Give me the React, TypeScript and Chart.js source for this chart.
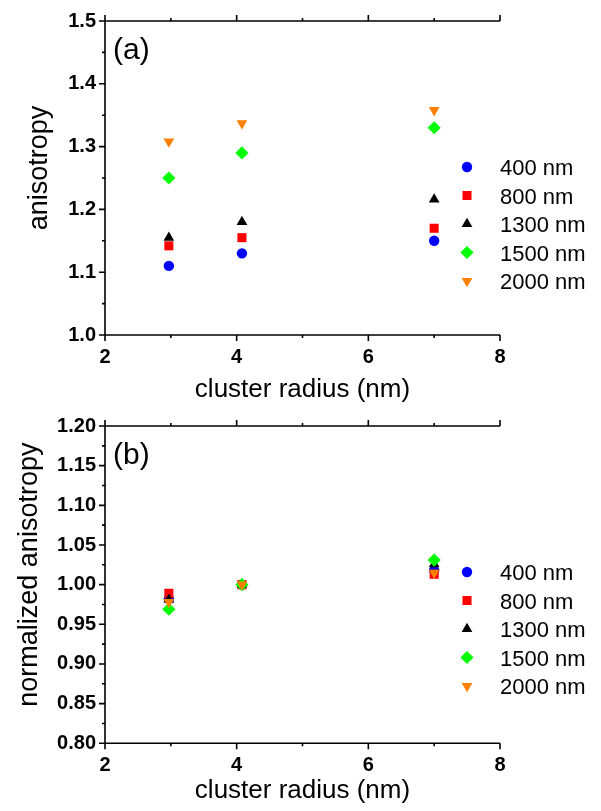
import React, { useEffect, useRef } from 'react';
import { Chart, registerables } from 'chart.js';
import { drawPoint } from 'chart.js/helpers';

Chart.register(...registerables);

// ---------- data ----------
const radius = [2.97, 4.08, 7.0];
const seriesLabels = ['400 nm', '800 nm', '1300 nm', '1500 nm', '2000 nm'];

const aniso400 = [1.11, 1.13, 1.15];
const aniso800 = [1.142, 1.155, 1.17];
const aniso1300 = [1.155, 1.18, 1.216];
const aniso1500 = [1.25, 1.29, 1.33];
const aniso2000 = [1.308, 1.337, 1.358];

const norm400 = [0.982, 1.0, 1.018];
const norm800 = [0.989, 1.0, 1.013];
const norm1300 = [0.981, 1.0, 1.026];
const norm1500 = [0.969, 1.0, 1.031];
const norm2000 = [0.978, 1.0, 1.015];

const xTicks = [2, 4, 6, 8];
const xMinorTicks = [3, 5, 7];
const yTicksA = [1.0, 1.1, 1.2, 1.3, 1.4, 1.5];
const yMinorA = [1.05, 1.15, 1.25, 1.35, 1.45];
const yTicksB = [0.8, 0.85, 0.9, 0.95, 1.0, 1.05, 1.1, 1.15, 1.2];
const yMinorB = [0.825, 0.875, 0.925, 0.975, 1.025, 1.075, 1.125, 1.175];

// ---------- styles ----------
const colors = ['#0000ff', '#ff0000', '#000000', '#00ff00', '#ff8000'];
const pointStyles = ['circle', 'rect', 'triangle', 'rectRot', 'triangle'];
const pointRadii = [5.2, 6.4, 6.2, 6.6, 6.2];
const pointRotations = [0, 0, 0, 0, 180];

const FONT = '"Liberation Sans", Arial, Helvetica, sans-serif';

const framePlugin = {
  id: 'originFrame',
  beforeDatasetsDraw(chart: any, _args: any, opts: any) {
    const { ctx, chartArea } = chart;
    const { left, right, top, bottom } = chartArea;
    const xs = chart.scales.x;
    const ys = chart.scales.y;
    ctx.save();
    ctx.strokeStyle = '#000';
    ctx.lineWidth = 1.6;
    ctx.beginPath();
    ctx.moveTo(left, top);
    ctx.lineTo(left, bottom);
    ctx.moveTo(left, top);
    ctx.lineTo(right, top);
    ctx.moveTo(left, bottom);
    ctx.lineTo(right, bottom);
    for (const v of opts.xMajor) {
      const px = xs.getPixelForValue(v);
      ctx.moveTo(px, bottom);
      ctx.lineTo(px, bottom + 6);
      ctx.moveTo(px, top);
      ctx.lineTo(px, top - 6);
    }
    for (const v of opts.xMinor) {
      const px = xs.getPixelForValue(v);
      ctx.moveTo(px, bottom);
      ctx.lineTo(px, bottom + 3);
      ctx.moveTo(px, top);
      ctx.lineTo(px, top - 3);
    }
    for (const v of opts.yMajor) {
      const py = ys.getPixelForValue(v);
      ctx.moveTo(left, py);
      ctx.lineTo(left - 6, py);
    }
    for (const v of opts.yMinor) {
      const py = ys.getPixelForValue(v);
      ctx.moveTo(left, py);
      ctx.lineTo(left - 3, py);
    }
    ctx.stroke();

    // panel label
    ctx.fillStyle = '#000';
    ctx.font = `30px ${FONT}`;
    ctx.textAlign = 'left';
    ctx.textBaseline = 'alphabetic';
    ctx.fillText(opts.panelLabel, left + 8, top + 38);

    // y title
    ctx.save();
    ctx.translate(opts.yTitleBaseline, (top + bottom) / 2 - 10);
    ctx.rotate(-Math.PI / 2);
    ctx.font = `27px ${FONT}`;
    ctx.textAlign = 'center';
    ctx.textBaseline = 'alphabetic';
    ctx.fillText(opts.yTitle, 0, 0);
    ctx.restore();

    // legend
    ctx.font = `22px ${FONT}`;
    ctx.textAlign = 'left';
    ctx.textBaseline = 'alphabetic';
    chart.data.datasets.forEach((ds: any, i: number) => {
      const cy = top + 146 + i * 28.5;
      const cx = right - 33;
      ctx.fillStyle = ds.backgroundColor;
      ctx.strokeStyle = ds.borderColor;
      drawPoint(ctx, { pointStyle: ds.pointStyle, rotation: ds.pointRotation, radius: ds.pointRadius, borderWidth: 0 }, cx, cy);
      ctx.fillStyle = '#000';
      ctx.fillText(ds.label, right, cy + 8);
    });
    ctx.restore();
  },
};

function buildDatasets(values: number[][]) {
  return seriesLabels.map((label, i) => ({
    label,
    data: radius.map((r, j) => ({ x: r, y: values[i][j] })),
    backgroundColor: colors[i],
    borderColor: colors[i],
    borderWidth: 0,
    pointStyle: pointStyles[i],
    pointRadius: pointRadii[i],
    pointHoverRadius: pointRadii[i],
    pointRotation: pointRotations[i],
    showLine: false,
    order: 5 - i,
  }));
}

function makeConfig(p: any) {
  return {
    type: 'scatter',
    data: { datasets: buildDatasets(p.values) },
    options: {
      animation: false,
      responsive: false,
      maintainAspectRatio: false,
      layout: { padding: { left: 0, right: 101, top: p.padTop, bottom: 0 } },
      plugins: {
        legend: { display: false },
        tooltip: { enabled: false },
        originFrame: {
          xMajor: xTicks,
          xMinor: xMinorTicks,
          yMajor: p.yTicks,
          yMinor: p.yMinor,
          panelLabel: p.panelLabel,
          yTitle: p.yTitle,
          yTitleBaseline: p.yTitleBaseline,
        },
      },
      scales: {
        x: {
          type: 'linear',
          min: 2,
          max: 8,
          afterBuildTicks: (s: any) => {
            s.ticks = xTicks.map((v) => ({ value: v }));
          },
          afterFit: (s: any) => {
            s.height = p.xHeight;
          },
          grid: { display: false, drawTicks: false },
          border: { display: false },
          ticks: {
            color: '#000',
            padding: 10,
            maxRotation: 0,
            autoSkip: false,
            font: { family: FONT, size: 20, weight: 'bold' },
            callback: (v: any) => String(v),
          },
          title: {
            display: true,
            text: 'cluster radius (nm)',
            color: '#000',
            font: { family: FONT, size: 26 },
            padding: { top: 0, bottom: p.xTitlePad },
          },
        },
        y: {
          type: 'linear',
          min: p.yTicks[0],
          max: p.yTicks[p.yTicks.length - 1],
          afterBuildTicks: (s: any) => {
            s.ticks = p.yTicks.map((v: number) => ({ value: v }));
          },
          afterFit: (s: any) => {
            s.width = 105;
          },
          grid: { display: false, drawTicks: false },
          border: { display: false },
          ticks: {
            color: '#000',
            padding: 9,
            autoSkip: false,
            font: { family: FONT, size: 20, weight: 'bold' },
            callback: (v: any) => Number(v).toFixed(p.decimals),
          },
        },
      },
    },
    plugins: [framePlugin],
  };
}

function Panel(props: { cfg: any; width: number; height: number; top: number }) {
  const ref = useRef<HTMLCanvasElement>(null);
  useEffect(() => {
    if (!ref.current) return;
    const chart = new Chart(ref.current, makeConfig(props.cfg) as any);
    return () => chart.destroy();
  }, []);
  return (
    <canvas
      ref={ref}
      width={props.width}
      height={props.height}
      style={{ position: 'absolute', left: 0, top: props.top, width: props.width, height: props.height }}
    />
  );
}

export default function App() {
  const cfgA = {
    values: [aniso400, aniso800, aniso1300, aniso1500, aniso2000],
    yTicks: yTicksA,
    yMinor: yMinorA,
    decimals: 1,
    padTop: 18,
    xHeight: 70,
    xTitlePad: 0,
    panelLabel: '(a)',
    yTitle: 'anisotropy',
    yTitleBaseline: 47,
  };
  const cfgB = {
    values: [norm400, norm800, norm1300, norm1500, norm2000],
    yTicks: yTicksB,
    yMinor: yMinorB,
    decimals: 2,
    padTop: 20,
    xHeight: 67.7,
    xTitlePad: 5,
    panelLabel: '(b)',
    yTitle: 'normalized anisotropy',
    yTitleBaseline: 36.7,
  };
  return (
    <div style={{ position: 'absolute', left: 0, top: 0, width: 601, height: 811, background: '#fff' }}>
      <Panel cfg={cfgA} width={601} height={405} top={0} />
      <Panel cfg={cfgB} width={601} height={406} top={405} />
    </div>
  );
}
